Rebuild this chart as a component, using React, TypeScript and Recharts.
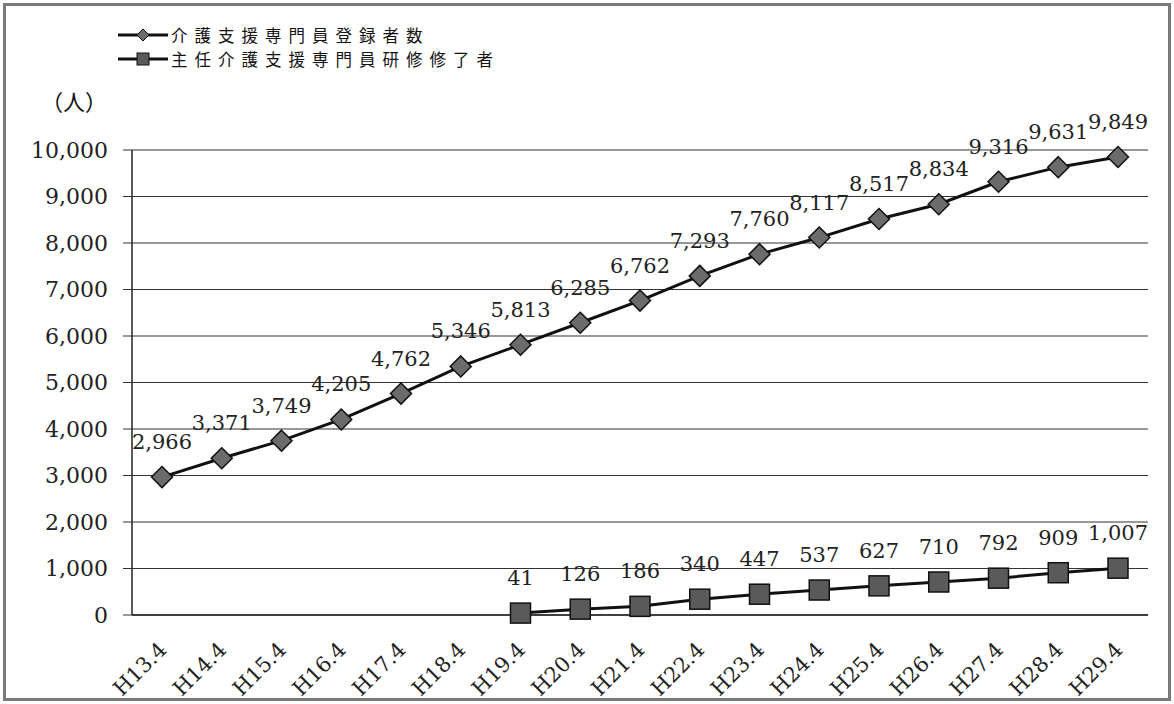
import React from 'react';
import { LineChart, Line, XAxis, YAxis, CartesianGrid, LabelList } from 'recharts';

const categories = ['H13.4', 'H14.4', 'H15.4', 'H16.4', 'H17.4', 'H18.4', 'H19.4', 'H20.4', 'H21.4', 'H22.4', 'H23.4', 'H24.4', 'H25.4', 'H26.4', 'H27.4', 'H28.4', 'H29.4'];
const registered = [2966, 3371, 3749, 4205, 4762, 5346, 5813, 6285, 6762, 7293, 7760, 8117, 8517, 8834, 9316, 9631, 9849];
const chiefCompleted: (number | null)[] = [null, null, null, null, null, null, 41, 126, 186, 340, 447, 537, 627, 710, 792, 909, 1007];
const yTicks = [0, 1000, 2000, 3000, 4000, 5000, 6000, 7000, 8000, 9000, 10000];
const seriesNames = ['介護支援専門員登録者数', '主任介護支援専門員研修修了者'];
const unitLabel = '（人）';

const data = categories.map((c, i) => ({ name: c, registered: registered[i], chief: chiefCompleted[i] }));

const fmt = (v: any) => (v === null || v === undefined || v === '' ? '' : Number(v).toLocaleString('en-US'));

const SERIF = '"DejaVu Serif", "Liberation Serif", serif';
const SANS = '"Noto Sans CJK JP", "Noto Sans", sans-serif';

const Diamond = (props: any) => {
  const { cx, cy, index } = props;
  if (cx == null || cy == null || props.value == null) return <g key={`d${index}`} />;
  const r = 10.5;
  return (
    <path key={`d${index}`} d={`M${cx},${cy - r} L${cx + r},${cy} L${cx},${cy + r} L${cx - r},${cy} Z`} fill="#6b6b6b" stroke="#111" strokeWidth={1.5} />
  );
};

const Square = (props: any) => {
  const { cx, cy, index } = props;
  if (cx == null || cy == null || props.value == null) return <g key={`s${index}`} />;
  const r = 10;
  return <rect key={`s${index}`} x={cx - r} y={cy - r} width={2 * r} height={2 * r} fill="#5a5a5a" stroke="#111" strokeWidth={1.5} />;
};

const XTick = (props: any) => {
  const { x, y, payload } = props;
  const ax = x + 6;
  const ay = y + 36;
  return (
    <text x={ax} y={ay} transform={`rotate(-45, ${ax}, ${ay})`} textAnchor="end" fontSize={21} fontFamily={SERIF} fill="#222">
      {payload.value}
    </text>
  );
};

const LegendRow = ({ kind, label }: { kind: 'diamond' | 'square'; label: string }) => (
  <div style={{ display: 'flex', alignItems: 'center', height: 24 }}>
    <svg width={50} height={20} style={{ flex: 'none' }}>
      <line x1={0} y1={10} x2={50} y2={10} stroke="#111" strokeWidth={3} />
      {kind === 'diamond' ? (
        <path d="M25,4 L31,10 L25,16 L19,10 Z" fill="#6b6b6b" stroke="#111" strokeWidth={1} />
      ) : (
        <rect x={19} y={4} width={12} height={12} fill="#5a5a5a" stroke="#111" strokeWidth={1} />
      )}
    </svg>
    <span style={{ marginLeft: 3, fontFamily: SANS, fontSize: 16.5, letterSpacing: 7, color: '#111', whiteSpace: 'nowrap', lineHeight: '24px' }}>
      {label}
    </span>
  </div>
);

export default function App() {
  return (
    <div style={{ position: 'absolute', top: 0, left: 0, width: 1174, height: 704, background: '#fff', overflow: 'hidden' }}>
      <LineChart width={1174} height={704} data={data} margin={{ top: 150, right: 26, bottom: 9, left: 8 }}>
        <CartesianGrid vertical={false} stroke="#333" strokeWidth={1.2} />
        <XAxis
          dataKey="name"
          padding={{ left: 30, right: 30 }}
          height={80}
          tickLine={false}
          tickSize={0}
          tickMargin={0}
          axisLine={{ stroke: '#222', strokeWidth: 1.5 }}
          tick={<XTick />}
          interval={0}
        />
        <YAxis
          width={124}
          domain={[0, 10000]}
          ticks={yTicks}
          tickFormatter={fmt}
          tickSize={9}
          tickMargin={15}
          tickLine={{ stroke: '#333' }}
          axisLine={{ stroke: '#222', strokeWidth: 1.5 }}
          tick={{ fontSize: 22, fontFamily: SERIF, fill: '#222' }}
          interval={0}
        />
        <Line type="linear" dataKey="registered" stroke="#111" strokeWidth={3} dot={<Diamond />} isAnimationActive={false}>
          <LabelList dataKey="registered" position="top" offset={28} formatter={fmt} fontSize={21} fontFamily={SERIF} fill="#222" />
        </Line>
        <Line type="linear" dataKey="chief" stroke="#111" strokeWidth={3} dot={<Square />} isAnimationActive={false} connectNulls={false}>
          <LabelList dataKey="chief" position="top" offset={28} formatter={fmt} fontSize={21} fontFamily={SERIF} fill="#222" />
        </Line>
      </LineChart>
      <div style={{ position: 'absolute', left: 118, top: 23 }}>
        <LegendRow kind="diamond" label={seriesNames[0]} />
        <LegendRow kind="square" label={seriesNames[1]} />
      </div>
      <div style={{ position: 'absolute', left: 41, top: 86, fontFamily: SANS, fontSize: 22, color: '#111', lineHeight: '28px', whiteSpace: 'nowrap' }}>
        {unitLabel}
      </div>
      <div style={{ position: 'absolute', left: 3, top: 3, width: 1168, height: 698, boxSizing: 'border-box', border: '3px solid #7a7a7a', pointerEvents: 'none' }} />
    </div>
  );
}
